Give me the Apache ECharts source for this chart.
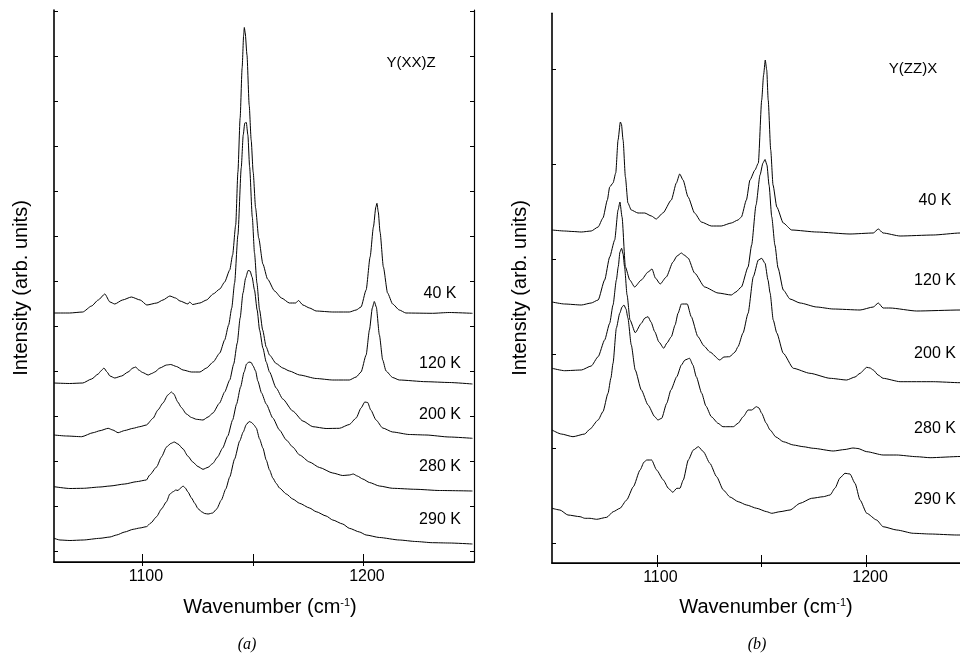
<!DOCTYPE html>
<html lang="en">
<head>
<meta charset="UTF-8">
<title>Raman spectra</title>
<script src="https://cdn.jsdelivr.net/npm/echarts@6/dist/echarts.min.js"></script>
<style>
  html, body { margin: 0; padding: 0; background: #fff; }
  #main { width: 960px; height: 654px; }
</style>
</head>
<body>
<div id="main"></div>
<script>
// ---- data: [wavenumber (cm-1), intensity (arb. units, offset per temperature)] ----
// panel (a) Y(XX)Z
const xxz40 = [[1060,249],[1067,249],[1073,250],[1077,256],[1080,262],[1083,268],[1085.3,260],[1087.5,258],[1091,262],[1095,265],[1099,262],[1102,257],[1106.5,259],[1109.3,262],[1112.4,266],[1115,264],[1117,261],[1120.6,258],[1121.4,260],[1122.7,257.5],[1126,259],[1129,262],[1132,268],[1135,273],[1137.2,280],[1139.5,292],[1140.8,307],[1142.2,337],[1143.2,390],[1144.2,444],[1145.1,494],[1145.8,527],[1146.1,534.5],[1146.5,529],[1147.3,507],[1148.3,457],[1149.2,422],[1150.1,390],[1151.2,354],[1152.6,324],[1154.5,298],[1156.6,283],[1159.8,271],[1162.9,264],[1166.5,259],[1169.3,259],[1170.6,261.5],[1172.6,257],[1175.6,254],[1178.6,251],[1186.1,250],[1193.6,250],[1196.7,252],[1198.9,255],[1201.2,272],[1203,305],[1204.5,335],[1205.6,355],[1206.1,358.7],[1206.7,350],[1207.5,330],[1209,295],[1210.9,269],[1213.2,258],[1216.2,252],[1219.2,249],[1231.2,248.7],[1238.8,249.5],[1249.3,248.7]];
const xxz120 = [[1060,179],[1067,178.5],[1073,179],[1077,183],[1080,188],[1081.2,191],[1082.6,194],[1084,190],[1085.3,186],[1087.5,184],[1090.6,186],[1093.5,190],[1095.7,194],[1097,195],[1098.3,192],[1100.1,189.5],[1102.6,187],[1104.2,188.5],[1105.6,190],[1107.9,194],[1110.9,197],[1112.8,197.5],[1115.4,195.5],[1118.4,192],[1122.2,190],[1126,190],[1129,194],[1132,200],[1135,209],[1137.2,222],[1139,237],[1140.4,254],[1141.7,279],[1143.2,327],[1144.7,394],[1145.6,427],[1146.3,439],[1147,439.5],[1147.7,427],[1148.5,395],[1149.7,345],[1150.7,309],[1151.8,279],[1153,252],[1154.4,232],[1156,215],[1157.5,207],[1160.5,198.5],[1163.5,194],[1166.5,191],[1171.1,187],[1178.6,183.5],[1186.1,182],[1193.6,182],[1196.7,185],[1198.9,190],[1201.2,207],[1202.7,232],[1204,254],[1204.9,260.5],[1205.8,255],[1207.2,227],[1208.7,202],[1210.2,191],[1213.2,184.5],[1216.2,182],[1228.3,180.3],[1238.8,179.5],[1249.3,178]];
const xxz200 = [[1060,127],[1065.7,126],[1072.5,125.3],[1077.7,129.3],[1080.8,131.3],[1084.5,133.7],[1086.6,132],[1089,129.3],[1092,131.5],[1095.8,133.7],[1098.8,135.3],[1101.8,137],[1104.8,143.7],[1107,152],[1109.3,159],[1111.5,167],[1113.1,170],[1114.2,168],[1116,160],[1117.6,154.5],[1119.9,148],[1122.2,144.5],[1124.4,142.7],[1127.4,142],[1129.7,145],[1131.9,149],[1134.9,159],[1137.2,170],[1139.5,182],[1141.3,198],[1142.9,219],[1144.2,244],[1145.5,269],[1146.7,284],[1147.8,291.5],[1148.7,291],[1149.6,285],[1150.7,272],[1151.9,252],[1153,232],[1154.5,214],[1156,200],[1157.5,190],[1160.5,174],[1163.5,163],[1168,151],[1172.6,141],[1177.1,135.3],[1183.1,133.5],[1189.1,133.7],[1193.6,137.5],[1196.7,144],[1198.9,154],[1200.6,160],[1201.9,159.5],[1203.3,152],[1205.7,142],[1208.7,134],[1213.2,130],[1220.7,127.5],[1228.3,127],[1238.8,125],[1249.3,123.7]];
const xxz280 = [[1060,75.3],[1067.2,73.5],[1073.2,73.7],[1080.8,75],[1085.3,76],[1092,78],[1097.3,80.3],[1101.8,82],[1103.3,87],[1106.4,95],[1108.6,105],[1110.9,115],[1112.8,118.5],[1114.4,120],[1116.1,118],[1118.4,113],[1120.5,106],[1122.8,100],[1125.1,95.5],[1127.4,92.7],[1129.7,94.7],[1131.8,98.5],[1134,105],[1136.3,114],[1138.6,126],[1140.8,142],[1142.6,158],[1144.4,175],[1146,190],[1147.1,198],[1148.2,200],[1149.2,199.5],[1150.1,196],[1151.2,191],[1152.2,181],[1153.9,169],[1156,158],[1159,144],[1162,132],[1165.1,122],[1168,115],[1171.1,107],[1175.6,100],[1180.1,94.5],[1186.1,89],[1190.6,86.5],[1193.6,87],[1195.4,88],[1197.2,86],[1199.7,83],[1202.7,79.5],[1207.2,76],[1213.2,73.7],[1223.7,72.7],[1234.3,71.5],[1249.3,71]];
const xxz290 = [[1060,23.7],[1062.7,22],[1067.2,21.5],[1073.2,22],[1080.8,23.7],[1085.3,25],[1088.3,27],[1092,30],[1095.8,32.7],[1098.8,34],[1101.8,35.3],[1103.8,39],[1106.4,45.3],[1108.6,53],[1110.9,60.3],[1112.4,68],[1113.9,70.3],[1115.1,72],[1116.1,71.5],[1117.3,74],[1118.4,76],[1119.4,74],[1120.6,70],[1122.2,64],[1123.7,58.7],[1125.1,53.5],[1126.7,50.3],[1128.2,48.5],[1129.7,48],[1131.8,49],[1133.6,53],[1135.7,62],[1137.7,73],[1139.5,85],[1141.7,103],[1144,121],[1145.6,130],[1147,137.5],[1148.3,140.5],[1149.4,139.5],[1150.5,137],[1151.5,134],[1153,123],[1154.5,114],[1156,102],[1157.5,92],[1159,84],[1160.5,78.7],[1162,74],[1165.1,68],[1168,63],[1171.1,58.7],[1175.6,54],[1178.6,50.3],[1183.1,46],[1186.1,42],[1190.6,38],[1193.6,33.7],[1198.2,30],[1201.2,27],[1207.2,24.5],[1216.2,22],[1223.7,20.5],[1231.2,19.3],[1238.8,19],[1249.3,18]];

// panel (b) Y(ZZ)X
const zzx40 = [[1050,333],[1056,332],[1060,331.5],[1064,331],[1068.7,332],[1072,336],[1074.3,345],[1076.4,363],[1077.5,376],[1079.1,380],[1080.4,390],[1081.5,423],[1082.6,441],[1083.1,439],[1083.9,423],[1085,386],[1086.2,360],[1087.8,353],[1091,350],[1094.2,350],[1097.4,347],[1099.7,344],[1102.9,350],[1106.9,363],[1109.3,380],[1110.9,389],[1112.5,383],[1114.9,366],[1118,350],[1121.2,341],[1126,337],[1130.7,337],[1135.5,340],[1138.7,343],[1140.3,346],[1142.7,363],[1144.4,383],[1146.8,393],[1148.4,400],[1150,463],[1150.9,488],[1151.7,503],[1152.4,493],[1153.1,463],[1154.3,413],[1155.4,378],[1157.2,356],[1160.3,340],[1164.3,333],[1176.2,331],[1192.1,329],[1203.2,330],[1205.6,334],[1207.9,330],[1216,327],[1231.8,328],[1244.6,330],[1249.8,330]];
const zzx120 = [[1050,261],[1056,259],[1064,258],[1068.7,260],[1072,263],[1075.1,283],[1077.5,306],[1079.9,323],[1081.5,353],[1082.4,361],[1083.4,346],[1085,296],[1087.1,283],[1089.4,276],[1092.6,283],[1095.8,291],[1097.7,294],[1099.3,285],[1101.6,279],[1104.5,286],[1107.7,301],[1109.6,307],[1111.7,310],[1113,308],[1114.9,305],[1118,290],[1122.8,276],[1129.2,270],[1135.5,268],[1137.7,271],[1140.3,276],[1143.5,296],[1145.2,318],[1147.3,358],[1149.2,388],[1150.6,400],[1151.6,403.5],[1152.5,398],[1153.5,378],[1154.8,346],[1156.3,318],[1157.8,295],[1160.3,273],[1163.5,264],[1168.3,260],[1176.2,256],[1184.1,254],[1196.9,253],[1203.2,256],[1205.6,260],[1207.9,255],[1211.2,255],[1223.9,252],[1244.6,253],[1249.8,253]];
const zzx200 = [[1050,194.7],[1056,192.3],[1064,193],[1068.7,197],[1072,206.3],[1075.1,223],[1077.5,239.7],[1079.1,258],[1080.7,283],[1081.6,296.3],[1082.4,311],[1083.2,314.7],[1083.9,309],[1084.6,296.3],[1085.8,268],[1087.2,243],[1089.7,230.3],[1092.6,239.7],[1094.3,245],[1095.8,246.3],[1097.2,241],[1099,231.3],[1101,221],[1103.3,214.7],[1104.8,220],[1106.9,226.3],[1108.7,238],[1110.1,249.7],[1111.7,259],[1114.5,259],[1116.4,246.3],[1119.6,226.3],[1122.5,217],[1125.3,211],[1130,203],[1132,206],[1134.7,206.3],[1137.3,211],[1138.7,216.3],[1141.1,230],[1143.5,249.7],[1146,286.3],[1148.4,303],[1150,304.7],[1151.6,299.7],[1153,283],[1154,270],[1155.5,243],[1157.2,230],[1160.3,209.7],[1165.1,194.7],[1173,189.7],[1182.6,184.7],[1190.5,183],[1194.5,186],[1196.9,189.7],[1200.1,195.7],[1201.7,195],[1203.2,193],[1205.5,188],[1207.9,184.7],[1216,181.3],[1231.8,181.3],[1244.6,180.3],[1249.8,180]];
const zzx280 = [[1050,133],[1054.4,129],[1060,126.3],[1065.6,129],[1068,133.7],[1072,143],[1074.3,151.3],[1076.7,169.7],[1078.1,185],[1079.1,199.7],[1080.7,235],[1082.3,249.7],[1083.4,256],[1084.3,258],[1085.3,254],[1086.2,245],[1087.8,218],[1089.7,193],[1092.6,173],[1095.8,158],[1099,146.3],[1100.5,143],[1102.3,144.7],[1104.7,159.7],[1106.7,173],[1109.5,186.3],[1111.7,198],[1113.4,203],[1115.6,204.7],[1117.2,198],[1118.8,186.3],[1121.4,169.7],[1123.4,157],[1126,146.3],[1129.2,139.7],[1131.5,136.3],[1133.9,136.3],[1136.5,136.3],[1138.7,139.7],[1141.2,146.3],[1143.5,153],[1145.2,153],[1147.5,156.3],[1148.7,155],[1150,149.7],[1152.1,140],[1154,133],[1156.8,126],[1160.3,121.3],[1165.1,118],[1169.8,116.3],[1174.6,114.7],[1184.1,112],[1189.7,113.5],[1193.5,115],[1195.9,114.5],[1200.1,111.3],[1207.9,108],[1214.4,108],[1223.9,106.3],[1230.3,105.3],[1244.6,106.5],[1249.8,107]];
const zzx290 = [[1050,54.7],[1053.8,53],[1057.6,48],[1063.4,46.3],[1065.6,44.7],[1068.1,44.7],[1071.3,43.7],[1076.1,45.7],[1079.2,51.3],[1082.4,54.7],[1085.6,63],[1088.8,76.3],[1092,93],[1093.9,101],[1095.2,103],[1097.5,103],[1099.9,93],[1103.1,83],[1105.5,74.7],[1107.6,70.7],[1109.5,74.7],[1111,74.7],[1112.6,83],[1115,103],[1117.4,113],[1119.8,116.3],[1122.2,111.3],[1125.3,99.7],[1128.5,86.3],[1131.7,73],[1134.9,66],[1138.8,61.3],[1142.8,58],[1147.6,54.7],[1152.4,51.3],[1154.8,49.7],[1158.7,51.3],[1163.5,53],[1168.3,59.7],[1173.8,64.7],[1179.4,66.3],[1182.6,68],[1185,75],[1187.3,85],[1189.7,89.7],[1192.1,89],[1194.5,79.7],[1196.9,63],[1200.1,49.7],[1204.8,43],[1207.9,36.3],[1214.4,33],[1222.3,29.7],[1230.3,29],[1243,28],[1249.8,28]];

const tempLabels = ['40 K', '120 K', '200 K', '280 K', '290 K'];
const xTicks = [1100, 1150, 1200];
const xTickLabels = [1100, 1200];
const yTicksA = [11, 56, 101, 146, 191, 236, 281, 326, 371, 416, 461, 506, 551];
const yTicksB = [20, 115, 209, 304, 399, 494];

const chart = echarts.init(document.getElementById('main'), null, { renderer: 'canvas' });
const FONT = '"Liberation Sans", Arial, sans-serif';

function xAx(grid, min, max, pos) {
    const bottom = pos === 'bottom';
    return {
        type: 'value', gridIndex: grid, position: pos, min: min, max: max,
        axisLine: { lineStyle: { color: '#000', width: bottom ? 1.6 : 1.2 } },
        axisTick: { inside: true, length: bottom ? 8 : 4, customValues: xTicks, lineStyle: { color: '#000' } },
        axisLabel: {
            show: bottom, customValues: xTickLabels, margin: 7, padding: [0, 0, 0, 7],
            formatter: (v) => String(v),
            color: '#000', fontSize: 16, fontFamily: FONT
        },
        splitLine: { show: false }
    };
}
function yAx(grid, max, ticks, pos) {
    return {
        type: 'value', gridIndex: grid, position: pos, min: 0, max: max,
        axisLine: { show: true, lineStyle: { color: '#000', width: pos === 'left' ? 1.6 : 1.2 } },
        axisTick: { show: true, inside: true, length: 4, customValues: ticks, lineStyle: { color: '#000' } },
        axisLabel: { show: false },
        splitLine: { show: false }
    };
}
function spec(data, xi, yi) {
    return {
        type: 'line', data: data, xAxisIndex: xi, yAxisIndex: yi,
        symbol: 'none', smooth: 0.2, smoothMonotone: 'x',
        lineStyle: { color: '#000', width: 1 }, silent: true
    };
}
function txt(x, y, s, size, extra) {
    return Object.assign({
        type: 'text', x: x, y: y,
        style: { text: s, fill: '#000', fontSize: size, fontFamily: FONT, align: 'center', verticalAlign: 'middle' }
    }, extra || {});
}
const wnRich = {
    a: { fontSize: 20, fontFamily: FONT, color: '#000' },
    s: { fontSize: 11, fontFamily: FONT, color: '#000', verticalAlign: 'top' }
};
const serif = (s) => ({ text: s, fill: '#000', fontSize: 16, fontStyle: 'italic', fontFamily: '"Liberation Serif", serif', align: 'center', verticalAlign: 'middle' });

const labelsA = [294, 363.5, 415, 466.5, 520];
const labelsB = [201, 281, 353.5, 429, 500];

const graphics = [
    txt(411, 63, 'Y(XX)Z', 15),
    txt(913, 69, 'Y(ZZ)X', 15),
    txt(21, 288, 'Intensity (arb. units)', 20, { rotation: Math.PI / 2 }),
    txt(520, 288, 'Intensity (arb. units)', 20, { rotation: Math.PI / 2 }),
    { type: 'text', x: 270, y: 607, style: { text: '{a|Wavenumber (cm}{s|-1}{a|)}', rich: wnRich, align: 'center', verticalAlign: 'middle' } },
    { type: 'text', x: 766, y: 607, style: { text: '{a|Wavenumber (cm}{s|-1}{a|)}', rich: wnRich, align: 'center', verticalAlign: 'middle' } },
    { type: 'text', x: 247, y: 645, style: serif('(a)') },
    { type: 'text', x: 757, y: 645, style: serif('(b)') }
];
tempLabels.forEach((t, i) => {
    graphics.push(txt(440, labelsA[i], t, 16));
    graphics.push(txt(935, labelsB[i], t, 16));
});

const option = {
    animation: false,
    backgroundColor: '#fff',
    grid: [
        { left: 54, top: 10, width: 420, height: 552, outerBoundsMode: 'none' },
        { left: 552, top: 13.3, width: 419.4, height: 549.7, outerBoundsMode: 'none' }
    ],
    xAxis: [
        xAx(0, 1060, 1250, 'bottom'), xAx(0, 1060, 1250, 'top'),
        xAx(1, 1050, 1250, 'bottom'), xAx(1, 1050, 1250, 'top')
    ],
    yAxis: [
        yAx(0, 552, yTicksA, 'left'), yAx(0, 552, yTicksA, 'right'),
        yAx(1, 549.7, yTicksB, 'left'), yAx(1, 549.7, yTicksB, 'right')
    ],
    series: [
        spec(xxz40, 0, 0), spec(xxz120, 0, 0), spec(xxz200, 0, 0), spec(xxz280, 0, 0), spec(xxz290, 0, 0),
        spec(zzx40, 2, 2), spec(zzx120, 2, 2), spec(zzx200, 2, 2), spec(zzx280, 2, 2), spec(zzx290, 2, 2)
    ],
    graphic: graphics
};
chart.setOption(option);
</script>
</body>
</html>
